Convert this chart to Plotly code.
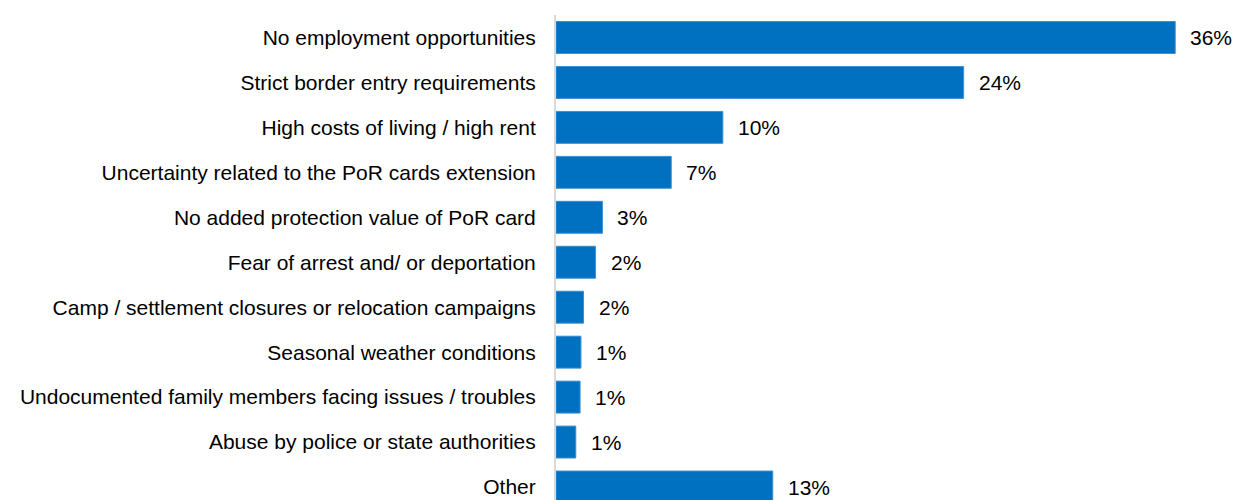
import plotly.graph_objects as go

categories = [
    "No employment opportunities",
    "Strict border entry requirements",
    "High costs of living / high rent",
    "Uncertainty related to the PoR cards extension",
    "No added protection value of PoR card",
    "Fear of arrest and/ or deportation",
    "Camp / settlement closures or relocation campaigns",
    "Seasonal weather conditions",
    "Undocumented family members facing issues / troubles",
    "Abuse by police or state authorities",
    "Other",
]
values = [36.0, 23.7, 9.7, 6.7, 2.7, 2.3, 1.6, 1.45, 1.4, 1.15, 12.6]
value_labels = ["36%", "24%", "10%", "7%", "3%", "2%", "2%", "1%", "1%", "1%", "13%"]

BLUE = "#0070c0"
FONT = "Liberation Sans, Arial, sans-serif"

fig = go.Figure()
fig.add_trace(go.Bar(
    y=categories, x=values, orientation="h",
    marker=dict(color=BLUE, line=dict(color="#3d8fcf", width=1)),
    width=0.71, hoverinfo="skip",
))

for cat, val, lab in zip(categories, values, value_labels):
    fig.add_annotation(
        x=val, y=cat, text=lab, showarrow=False,
        xanchor="left", yanchor="middle", xshift=13,
        font=dict(family=FONT, size=21, color="#000000"),
    )

fig.update_layout(
    width=1236, height=500,
    margin=dict(l=556, r=60, t=14.5, b=0),
    paper_bgcolor="white", plot_bgcolor="white",
    showlegend=False,
    font=dict(family=FONT, size=21, color="#000000"),
    xaxis=dict(range=[0, 620 / 17.2], visible=False, showgrid=False, zeroline=False),
    yaxis=dict(
        type="category",
        categoryorder="array", categoryarray=categories,
        range=[-0.5 + 485.5 / 45, -0.5],
        showline=True, linecolor="#d9d9d9", linewidth=2,
        ticks="", ticklabelstandoff=14, showgrid=False,
        automargin=False,
    ),
)

# drop the default body margin so the figure sits flush in the window
fig.write_html(
    "out.html",
    config={"displayModeBar": False},
    post_script="document.body.style.margin='0';document.body.style.overflow='hidden';",
)
